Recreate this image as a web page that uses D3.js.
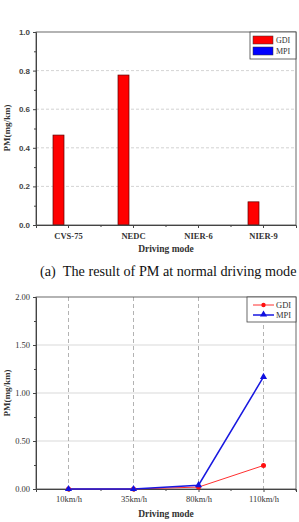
<!DOCTYPE html>
<html>
<head>
<meta charset="utf-8">
<script src="https://cdn.jsdelivr.net/npm/d3@7"></script>
<style>
  body { margin: 0; background: #fff; }
  svg { display: block; }
</style>
</head>
<body>
<svg id="chart"></svg>
<script>
// values
var barModes = ["CVS-75", "NEDC", "NIER-6", "NIER-9"];
var barSeries = ["GDI", "MPI"];
var barGDI = [0.466, 0.777, 0, 0.12];
var barMPI = [0, 0, 0, 0];
var barTicks = [0, 0.2, 0.4, 0.6, 0.8, 1.0];

var speedModes = ["10km/h", "35km/h", "80km/h", "110km/h"];
var lineGDI = [0, 0, 0.02, 0.245];
var lineMPI = [0, 0, 0.04, 1.167];
var lineTicks = [0, 0.5, 1.0, 1.5, 2.0];

var width = 299, height = 522;
var serif = "'Liberation Serif', 'Times New Roman', serif";
var sans = "'Liberation Sans', Arial, sans-serif";
var colors = { GDI: "#ff0000", MPI: "#0000ff" };

var svg = d3.select("#chart")
    .attr("width", width)
    .attr("height", height);

////////////////////////////// (a) bar chart
var top1 = 32, bottom1 = 225, left = 36, right = 296;

var x0 = d3.scaleBand().domain(barModes).range([left, right]);
var x1 = d3.scaleBand().domain(barSeries).range([17, 39]);
var y0 = d3.scaleLinear().domain([0, 1]).range([bottom1, top1]);

// dashed grid
svg.append("g")
    .selectAll("line")
    .data(barTicks.slice(1, -1))
    .join("line")
    .attr("x1", left).attr("x2", right)
    .attr("y1", function(d) { return y0(d); })
    .attr("y2", function(d) { return y0(d); })
    .attr("stroke", "#c8c8c8")
    .attr("stroke-width", 0.8)
    .attr("stroke-dasharray", "3,2");

var barData = [];
barModes.forEach(function(m, i) {
    barData.push({ mode: m, key: "GDI", value: barGDI[i] });
    barData.push({ mode: m, key: "MPI", value: barMPI[i] });
});

svg.append("g")
    .selectAll("rect")
    .data(barData.filter(function(d) { return d.value > 0; }))
    .join("rect")
    .attr("x", function(d) { return x0(d.mode) + x1(d.key); })
    .attr("y", function(d) { return y0(d.value); })
    .attr("width", x1.bandwidth())
    .attr("height", function(d) { return bottom1 - y0(d.value); })
    .attr("fill", function(d) { return colors[d.key]; })
    .attr("stroke", "#5a0000")
    .attr("stroke-width", 0.7);

// frame
svg.append("rect")
    .attr("x", left).attr("y", top1)
    .attr("width", right - left).attr("height", bottom1 - top1)
    .attr("fill", "none")
    .attr("stroke", "#444")
    .attr("stroke-width", 0.8);

var yAxis0 = svg.append("g")
    .attr("transform", "translate(" + left + ",0)")
    .call(d3.axisLeft(y0).tickValues(barTicks).tickFormat(d3.format(".1f")).tickSize(3));
svg.append("g")
    .attr("transform", "translate(" + left + ",0)")
    .call(d3.axisLeft(y0).tickValues([0.1, 0.3, 0.5, 0.7, 0.9]).tickFormat("").tickSize(2))
    .call(function(g) { g.select(".domain").remove(); });
yAxis0.selectAll("text")
    .attr("font-family", sans)
    .attr("font-size", 8)
    .attr("font-weight", "bold")
    .attr("fill", "#444");

var xAxis0 = svg.append("g")
    .attr("transform", "translate(0," + bottom1 + ")")
    .call(d3.axisBottom(x0).tickSize(3).tickPadding(5));
xAxis0.selectAll("text")
    .attr("font-family", serif)
    .attr("font-size", 8.5)
    .attr("font-weight", "bold")
    .attr("fill", "#333");
// small ticks between categories
svg.append("g")
    .selectAll("line")
    .data(barModes.slice(1))
    .join("line")
    .attr("x1", function(m) { return x0(m); })
    .attr("x2", function(m) { return x0(m); })
    .attr("y1", bottom1).attr("y2", bottom1 + 2)
    .attr("stroke", "#444");

svg.selectAll(".domain").attr("stroke", "#444");
svg.selectAll(".tick line").attr("stroke", "#444");

svg.append("text")
    .text("Driving mode")
    .attr("x", 166).attr("y", 252)
    .attr("text-anchor", "middle")
    .attr("font-family", serif)
    .attr("font-size", 9.5)
    .attr("font-weight", "bold")
    .attr("fill", "#333");

svg.append("text")
    .text("PM(mg/km)")
    .attr("transform", "translate(10,128)rotate(270)")
    .attr("text-anchor", "middle")
    .attr("font-family", serif)
    .attr("font-size", 9)
    .attr("font-weight", "bold")
    .attr("fill", "#333");

// legend (a)
var leg0 = svg.append("g").attr("transform", "translate(250," + top1 + ")");
leg0.append("rect")
    .attr("width", 46).attr("height", 27)
    .attr("fill", "#fff").attr("stroke", "#444").attr("stroke-width", 0.8);
barSeries.forEach(function(s, i) {
    leg0.append("rect")
        .attr("x", 3).attr("y", 4 + i * 11)
        .attr("width", 20).attr("height", 8)
        .attr("fill", colors[s])
        .attr("stroke", "#333").attr("stroke-width", 0.5);
    leg0.append("text")
        .text(s)
        .attr("x", 26).attr("y", 11 + i * 11)
        .attr("font-family", serif)
        .attr("font-size", 8)
        .attr("fill", "#333");
});

svg.append("text")
    .text("(a)\u00a0\u00a0The result of PM at normal driving mode")
    .attr("x", 40).attr("y", 276)
    .attr("font-family", serif)
    .attr("font-size", 14.2)
    .attr("fill", "#111");

////////////////////////////// (b) line chart
var top2 = 297, bottom2 = 489;

var xp = d3.scalePoint().domain(speedModes).range([left, right]).padding(0.5);
var y2 = d3.scaleLinear().domain([0, 2]).range([bottom2, top2]);

svg.append("g")
    .selectAll("line")
    .data(lineTicks.slice(1, -1))
    .join("line")
    .attr("x1", left).attr("x2", right)
    .attr("y1", function(d) { return y2(d); })
    .attr("y2", function(d) { return y2(d); })
    .attr("stroke", "#cfcfcf")
    .attr("stroke-width", 0.8);

svg.append("g")
    .selectAll("line")
    .data(speedModes)
    .join("line")
    .attr("x1", function(d) { return xp(d); })
    .attr("x2", function(d) { return xp(d); })
    .attr("y1", top2).attr("y2", bottom2)
    .attr("stroke", "#aaa")
    .attr("stroke-width", 0.9)
    .attr("stroke-dasharray", "4,3");

svg.append("rect")
    .attr("x", left).attr("y", top2)
    .attr("width", right - left).attr("height", bottom2 - top2)
    .attr("fill", "none")
    .attr("stroke", "#444")
    .attr("stroke-width", 0.8);

var yAxis2 = svg.append("g")
    .attr("class", "ax2")
    .attr("transform", "translate(" + left + ",0)")
    .call(d3.axisLeft(y2).tickValues(lineTicks).tickFormat(d3.format(".2f")).tickSize(3));
svg.append("g")
    .attr("class", "ax2")
    .attr("transform", "translate(" + left + ",0)")
    .call(d3.axisLeft(y2).tickValues([0.25, 0.75, 1.25, 1.75]).tickFormat("").tickSize(2))
    .call(function(g) { g.select(".domain").remove(); });
yAxis2.selectAll("text")
    .attr("font-family", serif)
    .attr("font-size", 8.5)
    .attr("fill", "#333");

var xAxis2 = svg.append("g")
    .attr("class", "ax2")
    .attr("transform", "translate(0," + bottom2 + ")")
    .call(d3.axisBottom(xp).tickSize(3).tickPadding(4));
xAxis2.selectAll("text")
    .attr("font-family", serif)
    .attr("font-size", 8.5)
    .attr("fill", "#333");
svg.append("g")
    .selectAll("line")
    .data(speedModes)
    .join("line")
    .attr("x1", function(d) { return xp(d) + xp.step() / 2; })
    .attr("x2", function(d) { return xp(d) + xp.step() / 2; })
    .attr("y1", bottom2).attr("y2", bottom2 + 2)
    .attr("stroke", "#444");

svg.selectAll(".ax2 .domain").attr("stroke", "#444");
svg.selectAll(".ax2 .tick line").attr("stroke", "#444");

var line = d3.line()
    .x(function(d, i) { return xp(speedModes[i]); })
    .y(function(d) { return y2(d); });

svg.append("path")
    .datum(lineGDI)
    .attr("d", line)
    .attr("fill", "none")
    .attr("stroke", "#ff3030")
    .attr("stroke-width", 1);

svg.append("path")
    .datum(lineMPI)
    .attr("d", line)
    .attr("fill", "none")
    .attr("stroke", "#1818e0")
    .attr("stroke-width", 1.5);

svg.append("g")
    .selectAll("circle")
    .data(lineGDI)
    .join("circle")
    .attr("cx", function(d, i) { return xp(speedModes[i]); })
    .attr("cy", function(d) { return y2(d); })
    .attr("r", 2.5)
    .attr("fill", "#ff1010");

var tri = d3.symbol().type(d3.symbolTriangle).size(22);
svg.append("g")
    .selectAll("path")
    .data(lineMPI)
    .join("path")
    .attr("d", tri)
    .attr("transform", function(d, i) { return "translate(" + xp(speedModes[i]) + "," + y2(d) + ")"; })
    .attr("fill", "#1010e0");

svg.append("text")
    .text("Driving mode")
    .attr("x", 166).attr("y", 517)
    .attr("text-anchor", "middle")
    .attr("font-family", serif)
    .attr("font-size", 9.5)
    .attr("font-weight", "bold")
    .attr("fill", "#333");

svg.append("text")
    .text("PM(mg/km)")
    .attr("transform", "translate(10,393)rotate(270)")
    .attr("text-anchor", "middle")
    .attr("font-family", serif)
    .attr("font-size", 9)
    .attr("font-weight", "bold")
    .attr("fill", "#333");

// legend (b)
var leg2 = svg.append("g").attr("transform", "translate(247," + top2 + ")");
leg2.append("rect")
    .attr("width", 49).attr("height", 25)
    .attr("fill", "#fff").attr("stroke", "#444").attr("stroke-width", 0.8);
leg2.append("line")
    .attr("x1", 6).attr("x2", 27).attr("y1", 8).attr("y2", 8)
    .attr("stroke", "#ff3030");
leg2.append("circle")
    .attr("cx", 16.5).attr("cy", 8).attr("r", 2.2)
    .attr("fill", "#ff1010");
leg2.append("line")
    .attr("x1", 6).attr("x2", 27).attr("y1", 18).attr("y2", 18)
    .attr("stroke", "#1818e0").attr("stroke-width", 1.5);
leg2.append("path")
    .attr("d", tri)
    .attr("transform", "translate(16.5,17.5)")
    .attr("fill", "#1010e0");
["GDI", "MPI"].forEach(function(s, i) {
    leg2.append("text")
        .text(s)
        .attr("x", 29).attr("y", 11 + i * 10)
        .attr("font-family", serif)
        .attr("font-size", 8.5)
        .attr("fill", "#333");
});
</script>
</body>
</html>
